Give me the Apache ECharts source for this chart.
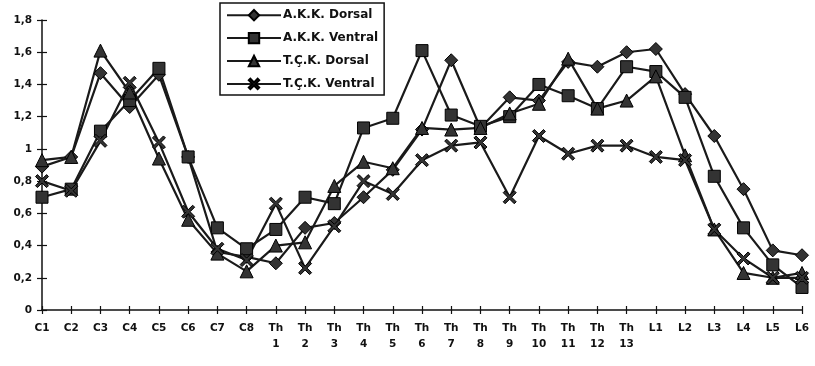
<!DOCTYPE html>
<html>
<head>
<meta charset="utf-8">
<script src="https://cdn.jsdelivr.net/npm/echarts@6/dist/echarts.min.js"></script>
<style>html,body{margin:0;padding:0;background:#fff;}#c{width:815px;height:366px;}</style>
</head>
<body>
<div id="c"></div>
<script>
const categories = ['C1','C2','C3','C4','C5','C6','C7','C8',
  'Th\n1','Th\n2','Th\n3','Th\n4','Th\n5','Th\n6','Th\n7','Th\n8','Th\n9','Th\n10','Th\n11','Th\n12','Th\n13',
  'L1','L2','L3','L4','L5','L6'];
const akkDorsal  = [0.89,0.95,1.47,1.26,1.46,0.95,0.36,0.33,0.29,0.51,0.54,0.70,0.87,1.12,1.55,1.13,1.32,1.30,1.54,1.51,1.60,1.62,1.34,1.08,0.75,0.37,0.34];
const akkVentral = [0.70,0.75,1.11,1.30,1.50,0.95,0.51,0.38,0.50,0.70,0.66,1.13,1.19,1.61,1.21,1.14,1.20,1.40,1.33,1.25,1.51,1.48,1.32,0.83,0.51,0.28,0.14];
const tckDorsal  = [0.93,0.95,1.61,1.35,0.94,0.56,0.35,0.24,0.40,0.42,0.77,0.92,0.88,1.13,1.12,1.13,1.22,1.28,1.56,1.25,1.30,1.45,0.96,0.50,0.23,0.20,0.23];
const tckVentral = [0.80,0.74,1.05,1.41,1.04,0.61,0.38,0.31,0.66,0.26,0.52,0.80,0.72,0.93,1.02,1.04,0.70,1.08,0.97,1.02,1.02,0.95,0.93,0.50,0.32,0.20,0.20];
const seriesNames = ['A.K.K. Dorsal','A.K.K. Ventral','T.Ç.K. Dorsal','T.Ç.K. Ventral'];
const yTicks = {min:0, max:1.8, interval:0.2};

const xSym = 'path://M0,1.5 L1.5,0 L5,3.5 L8.5,0 L10,1.5 L6.5,5 L10,8.5 L8.5,10 L5,6.5 L1.5,10 L0,8.5 L3.5,5 Z';
const symbols = ['diamond','rect','triangle',xSym];
const sizes = [13,12,13,13];
const dataSets = [akkDorsal, akkVentral, tckDorsal, tckVentral];

const chart = echarts.init(document.getElementById('c'));
const font = {fontFamily:'DejaVu Sans, Liberation Sans, sans-serif', fontWeight:'bold', fontSize:10.5, color:'#111'};
chart.setOption({
  animation:false,
  backgroundColor:'#fff',
  grid:{left:42, right:13, top:20, bottom:56, containLabel:false},
  legend:{
    orient:'vertical', left:220, top:3,
    data:seriesNames,
    itemWidth:54, itemHeight:13, itemGap:10.5,
    padding:[6,6,5,6],
    borderColor:'#111', borderWidth:1.5,
    textStyle:Object.assign({}, font, {fontSize:12, padding:[0,0,0,-3]}),
    backgroundColor:'#fff'
  },
  xAxis:[{
    type:'category', data:categories, boundaryGap:false,
    axisLine:{lineStyle:{color:'#111', width:1.5}},
    axisTick:{show:true, length:4, lineStyle:{color:'#111', width:1.2}},
    axisLabel:Object.assign({}, font, {interval:0, margin:10, lineHeight:16}),
    splitLine:{show:false}
  },{
    type:'category', data:categories, boundaryGap:false, position:'bottom',
    axisLine:{show:false},
    axisTick:{show:true, inside:true, length:4, lineStyle:{color:'#111', width:1.2}},
    axisLabel:{show:false}, splitLine:{show:false}
  }],
  yAxis:[{
    type:'value', min:yTicks.min, max:yTicks.max, interval:yTicks.interval,
    axisLine:{show:true, lineStyle:{color:'#111', width:1.5}},
    axisTick:{show:true, length:5, lineStyle:{color:'#111', width:1.2}},
    axisLabel:Object.assign({}, font, {margin:10, formatter:v=>String(+v.toFixed(1)).replace('.',',')}),
    splitLine:{show:false}
  },{
    type:'value', min:yTicks.min, max:yTicks.max, interval:yTicks.interval, position:'left',
    axisLine:{show:false},
    axisTick:{show:true, inside:true, length:5, lineStyle:{color:'#111', width:1.2}},
    axisLabel:{show:false}, splitLine:{show:false}
  }],
  series:dataSets.map((d,i)=>({
    name:seriesNames[i], type:'line', data:d, xAxisIndex:0, yAxisIndex:0,
    symbol:symbols[i], symbolSize:sizes[i], showAllSymbol:true,
    lineStyle:{color:'#1a1a1a', width:2.2},
    itemStyle:{color:'#333', borderColor:'#000', borderWidth:1},
    emphasis:{disabled:true}
  }))
});
</script>
</body>
</html>
